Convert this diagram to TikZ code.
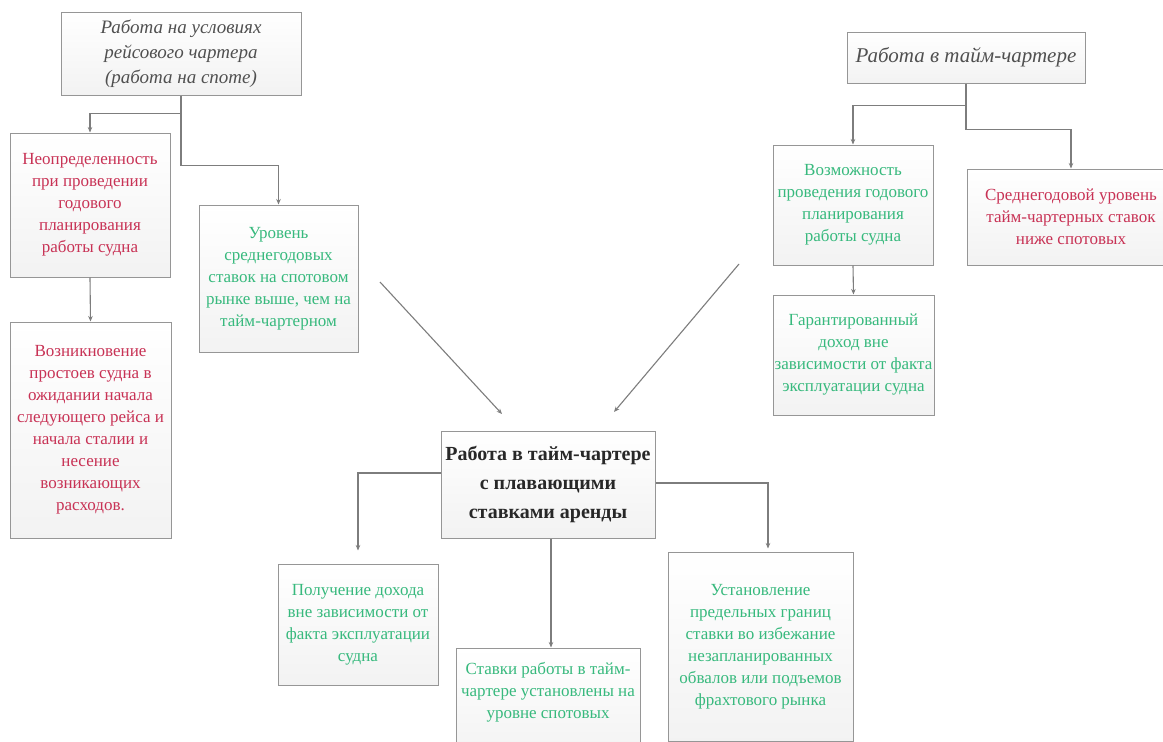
\documentclass[tikz,border=0pt]{standalone}
\usepackage{fontspec}
\setmainfont{Liberation Serif}
\usetikzlibrary{arrows.meta}
\definecolor{redtxt}{RGB}{200,50,85}
\definecolor{greentxt}{RGB}{55,185,125}
\definecolor{graytxt}{RGB}{80,80,80}
\definecolor{boldtxt}{RGB}{40,40,40}
\definecolor{boxline}{RGB}{150,150,150}
\definecolor{connline}{RGB}{125,125,125}
\tikzset{
  box/.style={draw=boxline, line width=1pt, top color=white, bottom color=gray!10,
    inner sep=0pt, align=center, font=\fontsize{17}{22}\selectfont},
  redbox/.style={box, text=redtxt},
  greenbox/.style={box, text=greentxt},
  titlebox/.style={box, text=graytxt, font=\fontsize{19}{25}\selectfont\itshape},
  mainbox/.style={box, text=boldtxt, font=\fontsize{20}{29}\selectfont\bfseries},
  conn/.style={draw=connline, line width=1.1pt, -{Stealth[length=5.5pt,width=4.5pt]}}
}
\begin{document}
\begin{tikzpicture}[x=1pt,y=-1pt]
\clip (0,0) rectangle (1163,742);
\fill[white] (0,0) rectangle (1163,742);

% left group
\node[titlebox, minimum width=240pt, minimum height=83pt] (A) at (181,53.5)
  {Работа на условиях\\рейсового чартера\\(работа на споте)};
\node[redbox, minimum width=160pt, minimum height=144pt] (B) at (90,205)
  {Неопределенность\\при проведении\\годового\\планирования\\работы судна};
\node[greenbox, minimum width=159pt, minimum height=147pt] (C) at (278.5,278.5)
  {Уровень\\среднегодовых\\ставок на спотовом\\рынке выше, чем на\\тайм-чартерном};
\node[redbox, minimum width=161pt, minimum height=216pt] (D) at (90.5,430)
  {Возникновение\\простоев судна в\\ожидании начала\\следующего рейса и\\начала сталии и\\несение\\возникающих\\расходов.};

% right group
\node[titlebox, font=\fontsize{21}{25}\selectfont\itshape, minimum width=238pt, minimum height=51pt] (E) at (966,57.5)
  {Работа в тайм-чартере};
\node[greenbox, minimum width=160pt, minimum height=120pt] (F) at (853,205)
  {Возможность\\проведения годового\\планирования\\работы судна};
\node[redbox, minimum width=208pt, minimum height=96pt] (G) at (1071,217)
  {Среднегодовой уровень\\тайм-чартерных ставок\\ниже спотовых};
\node[greenbox, minimum width=161pt, minimum height=120pt] (H) at (853.5,355)
  {Гарантированный\\доход вне\\зависимости от факта\\эксплуатации судна};

% bottom group
\node[mainbox, minimum width=214pt, minimum height=107pt] (I) at (548,484.5)
  {Работа в тайм-чартере\\с плавающими\\ставками аренды};
\node[greenbox, minimum width=160pt, minimum height=121pt] (J) at (358,624.5)
  {Получение дохода\\вне зависимости от\\факта эксплуатации\\судна};
\node[greenbox, minimum width=184pt, minimum height=112pt] (K) at (548,704)
  {Ставки работы в тайм-\\чартере установлены на\\уровне спотовых\\[4.5pt]\mbox{}};
\node[greenbox, minimum width=185pt, minimum height=189pt] (L) at (760.5,646.5)
  {Установление\\предельных границ\\ставки во избежание\\незапланированных\\обвалов или подъемов\\фрахтового рынка};

% connectors
\draw[conn] (A.south) -- ++(0,18) -| (B.north);
\draw[conn] (A.south) -- ++(0,70) -| (C.north);
\draw[conn] (B.south) -- (D.north);
\draw[conn] (E.south) -- ++(0,22) -| (F.north);
\draw[conn] (E.south) -- ++(0,46) -| (G.north);
\draw[conn] (F.south) -- (H.north);
\draw[conn, shorten >=13pt] ([yshift=11.5pt]I.west) -| (J.north);
\draw[conn] ([xshift=3pt]I.south) -- ([xshift=3pt]K.north);
\draw[conn, shorten >=3pt] ([yshift=1.5pt]I.east) -| ([xshift=7.5pt]L.north);

\coordinate (p1) at (380,282);
\coordinate (p2) at (502,414);
\coordinate (q1) at (739,264);
\coordinate (q2) at (614,412);
\draw[conn] (p1) -- (p2);
\draw[conn] (q1) -- (q2);
\end{tikzpicture}
\end{document}
